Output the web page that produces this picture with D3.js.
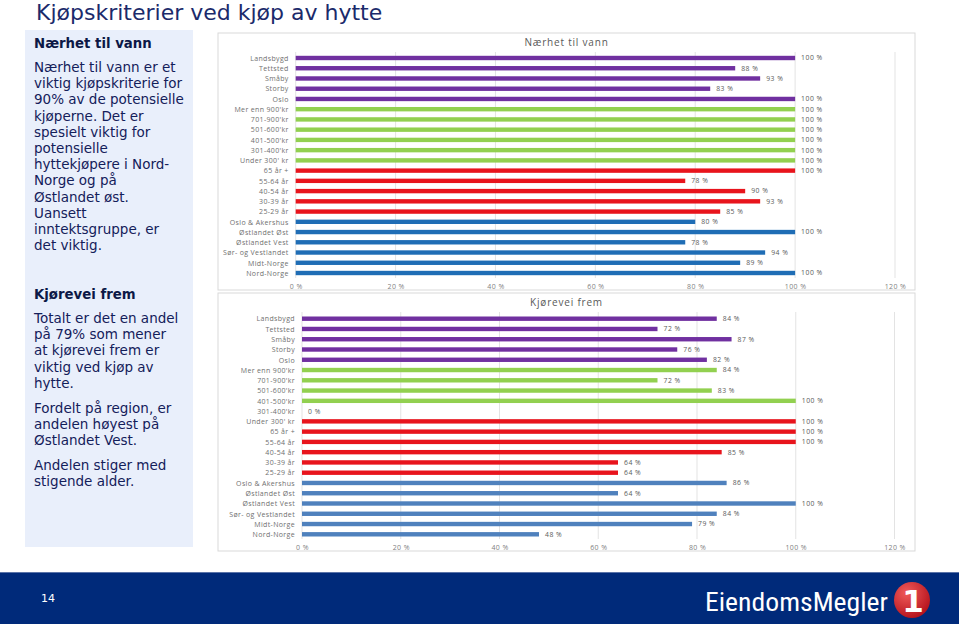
<!DOCTYPE html>
<html><head><meta charset="utf-8">
<script src="https://cdn.jsdelivr.net/npm/d3@7"></script>
<style>
html,body{margin:0;padding:0;background:#fff;}
svg{display:block;}
</style></head>
<body>
<svg id="s" width="959" height="624"></svg>
<script>
const categories = ["Landsbygd","Tettsted","Småby","Storby","Oslo","Mer enn 900'kr","701-900'kr","501-600'kr","401-500'kr","301-400'kr","Under 300' kr","65 år +","55-64 år","40-54 år","30-39 år","25-29 år","Oslo & Akershus","Østlandet Øst","Østlandet Vest","Sør- og Vestlandet","Midt-Norge","Nord-Norge"];
const naerhetValues = [100,88,93,83,100,100,100,100,100,100,100,100,78,90,93,85,80,100,78,94,89,100];
const kjoreveiValues = [84,72,87,76,82,84,72,83,100,0,100,100,100,85,64,64,86,64,100,84,79,48];
const naerhetGroups = ["p","p","p","p","p","g","g","g","g","g","g","r","r","r","r","r","b","b","b","b","b","b"];
const kjoreveiGroups = ["p","p","p","p","p","g","g","g","g","g","r","r","r","r","r","r","b","b","b","b","b","b"];
const xTicks = [0,20,40,60,80,100,120];
const sideText1 = ["Nærhet til vann er et","viktig kjøpskriterie for","90% av de potensielle","kjøperne. Det er","spesielt viktig for","potensielle","hyttekjøpere i Nord-","Norge og på","Østlandet øst.","Uansett","inntektsgruppe, er","det viktig."];
const sideText2 = [["Totalt er det en andel","på 79% som mener","at kjørevei frem er","viktig ved kjøp av","hytte."],["Fordelt på region, er","andelen høyest på","Østlandet Vest."],["Andelen stiger med","stigende alder."]];

const svg = d3.select("#s");
const navy = "#1b2a6b";

// title
svg.append("text").attr("x",36).attr("y",20).attr("font-family","DejaVu Sans, Verdana, sans-serif")
  .attr("font-size",22).attr("fill",navy).text("Kjøpskriterier ved kjøp av hytte");

// sidebar
svg.append("rect").attr("x",25).attr("y",30).attr("width",168).attr("height",517).attr("fill","#e9effb");
const sf = "DejaVu Sans, Verdana, sans-serif";
svg.append("text").attr("x",34).attr("y",48).attr("font-family",sf).attr("font-weight","bold")
  .attr("font-size",13.3).attr("fill","#0c1846").text("Nærhet til vann");
sideText1.forEach((t,i)=>{
  svg.append("text").attr("x",34).attr("y",72+i*16.2).attr("font-family",sf).attr("font-size",13.5)
    .attr("fill","#14205a").text(t);
});
svg.append("text").attr("x",34).attr("y",299).attr("font-family",sf).attr("font-weight","bold")
  .attr("font-size",13.3).attr("fill","#0c1846").text("Kjørevei frem");
let yy = 323;
sideText2.forEach((para,pi)=>{
  para.forEach((t)=>{
    svg.append("text").attr("x",34).attr("y",yy).attr("font-family",sf).attr("font-size",13.5)
      .attr("fill","#14205a").text(t);
    yy += 16.2;
  });
  yy += 8.6;
});

// charts
function chart(cfg){
  const g = svg.append("g");
  g.append("rect").attr("x",cfg.px).attr("y",cfg.py).attr("width",cfg.pw).attr("height",cfg.ph)
    .attr("fill","#fff").attr("stroke","#d9d9d9").attr("stroke-width",1);
  g.append("text").attr("x",cfg.px+cfg.pw/2).attr("y",cfg.py+13).attr("text-anchor","middle")
    .attr("font-family","Open Sans, sans-serif").attr("font-size",10).attr("letter-spacing",0.8)
    .attr("fill","#595959").text(cfg.title);
  const x = d3.scaleLinear().domain([0,120]).range([cfg.x0,cfg.x1]);
  const y = d3.scalePoint().domain(categories).range([cfg.y0,cfg.y1]);
  // grid
  g.selectAll(".grid").data(xTicks).join("line")
    .attr("x1",d=>x(d)).attr("x2",d=>x(d)).attr("y1",cfg.gy0).attr("y2",cfg.gy1)
    .attr("stroke","#e3e3e3").attr("stroke-width",1);
  // tick labels via axis
  const ax = g.append("g").attr("transform",`translate(0,${cfg.gy1})`)
    .call(d3.axisBottom(x).tickValues(xTicks).tickSize(0).tickPadding(6).tickFormat(d=>d+" %"));
  ax.select(".domain").remove();
  ax.selectAll("text").attr("font-family","Open Sans, sans-serif").attr("font-size",7)
    .attr("fill","#7f7f7f").attr("letter-spacing",0.4);
  // category labels via axis
  const ay = g.append("g").attr("transform",`translate(${cfg.x0-5},0)`)
    .call(d3.axisLeft(y).tickSize(0).tickPadding(2));
  ay.select(".domain").remove();
  ay.selectAll("text").attr("font-family","Open Sans, sans-serif").attr("font-size",7)
    .attr("fill","#6f6f6f").attr("letter-spacing",0.35);
  const data = categories.map((c,i)=>({c,v:cfg.values[i],grp:cfg.groups[i]}));
  g.selectAll(".bar").data(data).join("rect")
    .attr("x",x(0)).attr("y",d=>y(d.c)-2.2).attr("width",d=>Math.max(0,x(d.v)-x(0))).attr("height",4.4)
    .attr("fill",d=>cfg.colors[d.grp]);
  g.selectAll(".lbl").data(data).join("text")
    .attr("x",d=>x(d.v)+6).attr("y",d=>y(d.c)+2.4)
    .attr("font-family","Open Sans, sans-serif").attr("font-size",6.8).attr("letter-spacing",0.5)
    .attr("fill","#595959").text(d=>d.v+" %");
}
chart({title:"Nærhet til vann",px:218,py:33,pw:697,ph:257,x0:295.7,x1:895,y0:58,y1:273,gy0:52,gy1:278,
  values:naerhetValues,groups:naerhetGroups,colors:{p:"#7030a0",g:"#92d050",r:"#e8141c",b:"#1f6db5"}});
chart({title:"Kjørevei frem",px:218,py:293,pw:697,ph:258,x0:302,x1:894.5,y0:318.7,y1:534.3,gy0:312,gy1:539,
  values:kjoreveiValues,groups:kjoreveiGroups,colors:{p:"#7030a0",g:"#92d050",r:"#e8141c",b:"#4f81bd"}});

// footer
svg.append("rect").attr("x",0).attr("y",572).attr("width",959).attr("height",52).attr("fill","#002a7a");
svg.append("line").attr("x1",0).attr("x2",959).attr("y1",572.5).attr("y2",572.5).attr("stroke","#5a73a8").attr("stroke-width",1);
svg.append("text").attr("x",41).attr("y",602).attr("font-family","DejaVu Sans, Verdana, sans-serif")
  .attr("font-size",11).attr("fill","#fff").text("14");
svg.append("text").attr("x",705).attr("y",611).attr("font-family","Liberation Sans Narrow, Roboto, sans-serif")
  .attr("font-size",25).attr("font-stretch","condensed").attr("fill","#fff").attr("textLength",183)
  .attr("lengthAdjust","spacingAndGlyphs").text("EiendomsMegler");
const defs = svg.append("defs");
const rg = defs.append("radialGradient").attr("id","rg").attr("cx","35%").attr("cy","30%").attr("r","75%");
rg.append("stop").attr("offset","0%").attr("stop-color","#f05a5a");
rg.append("stop").attr("offset","100%").attr("stop-color","#b5121b");
svg.append("circle").attr("cx",912).attr("cy",600).attr("r",18).attr("fill","url(#rg)");
svg.append("text").attr("x",913).attr("y",612).attr("text-anchor","middle").attr("font-family","DejaVu Sans, sans-serif")
  .attr("font-weight","bold").attr("font-size",31).attr("fill","#fff").text("1");
</script>
</body></html>
